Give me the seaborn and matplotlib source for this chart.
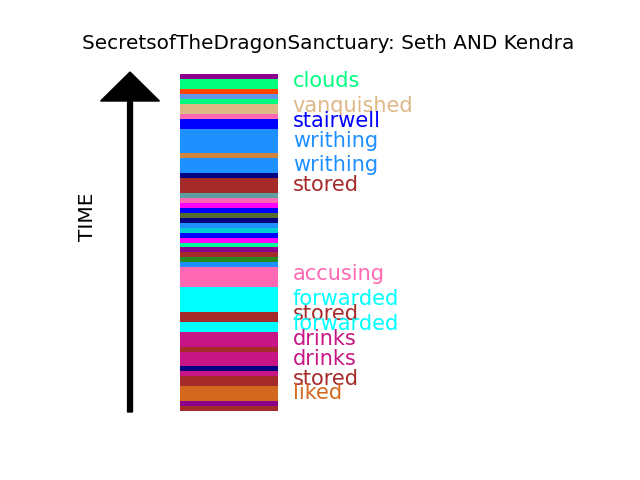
import numpy as np
import pandas as pd
import matplotlib
matplotlib.use("Agg")
import matplotlib.pyplot as plt
import seaborn as sns
from matplotlib.colors import ListedColormap

# stripes from top (oldest) to bottom, one unit = one event
seg_colors = [
    "darkmagenta", "springgreen", "orangered", "cornflowerblue", "springgreen",
    "burlywood", "hotpink", "blue", "dodgerblue", "peru", "dodgerblue", "navy",
    "brown", "cadetblue", "hotpink", "magenta", "blue", "darkolivegreen", "navy",
    "dodgerblue", "darkturquoise", "blue", "magenta", "mediumspringgreen",
    "darkmagenta", "brown", "forestgreen", "dodgerblue", "hotpink", "cyan",
    "brown", "cyan", "mediumvioletred", "brown", "mediumvioletred", "navy",
    "mediumvioletred", "brown", "chocolate", "darkmagenta", "brown",
]
seg_lengths = [
    1, 2, 1, 1, 1,
    2, 1, 2, 5, 1, 3, 1,
    3, 1, 1, 1, 1, 1, 1,
    1, 1, 1, 1, 1,
    1, 1, 1, 1, 4, 5,
    2, 2, 3, 1, 3, 1,
    1, 2, 3, 1, 1,
]

label_words = ["clouds", "vanquished", "stairwell", "writhing", "writhing", "stored",
               "accusing", "forwarded", "stored", "forwarded", "drinks", "drinks",
               "stored", "liked"]
label_rows = [1, 6, 9, 13, 18, 22, 40, 45, 48, 50, 53, 57, 61, 64]

title = "SecretsofTheDragonSanctuary: Seth AND Kendra"

# expand segments into one row per event
events = []
for c, n in zip(seg_colors, seg_lengths):
    events += [c] * n
palette = list(dict.fromkeys(events))
codes = [palette.index(c) for c in events]
grid = pd.DataFrame({"event": codes})

fig, ax0 = plt.subplots(figsize=(6.4, 4.8), dpi=100)
ax0.axis("off")
ax0.set_title(title, fontsize="x-large")

# the stripe column sits in its own axes
ax = fig.add_axes([180 / 640, 1 - 411 / 480, 98 / 640, 337 / 480])
sns.heatmap(grid, cmap=ListedColormap(palette), vmin=-0.5, vmax=len(palette) - 0.5,
            cbar=False, xticklabels=False, yticklabels=False, ax=ax)
ax.axis("off")

for word, row in zip(label_words, label_rows):
    ax.text(1.15, row + 0.45, word, color=events[row], fontsize=15,
            va="center", ha="left", clip_on=False)

# time arrow on the left
n = len(events)
ax.arrow(-0.51, n + 0.2, 0, -(n + 0.6), width=0.05, head_width=0.6, head_length=5.85,
         length_includes_head=True, color="black", clip_on=False)
ax.text(-0.94, 28.9, "TIME", rotation=90, fontsize="x-large", va="center", ha="center",
        clip_on=False)

fig.savefig("out.png", dpi=100)
